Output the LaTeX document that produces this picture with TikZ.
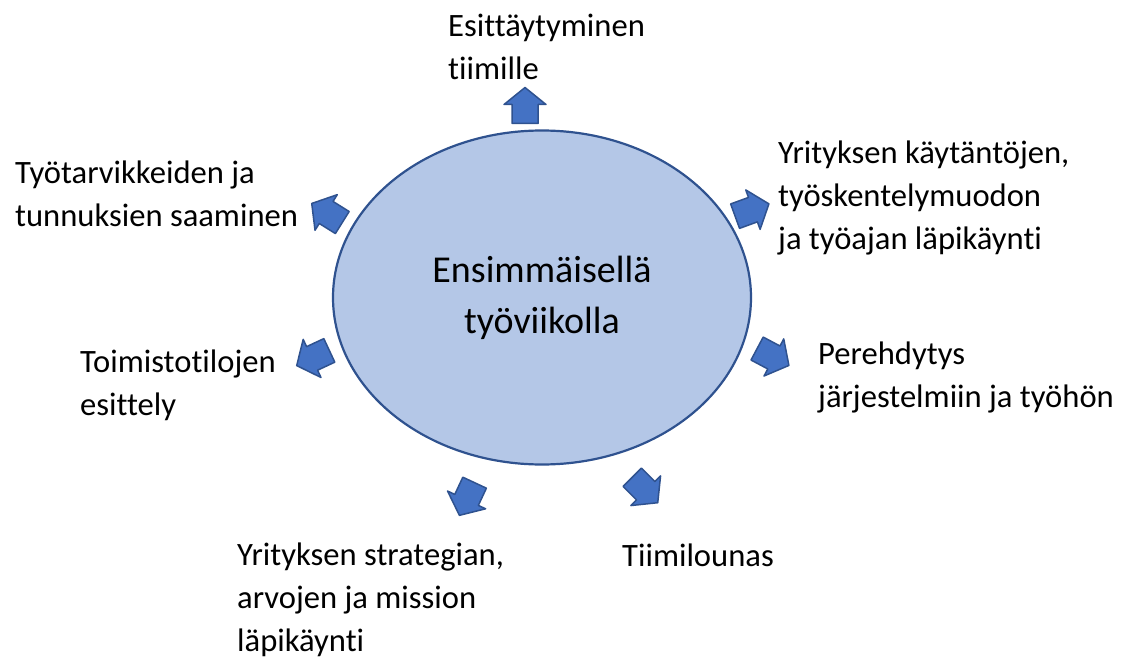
\documentclass[tikz,border=0pt]{standalone}
\usepackage{fontspec}
\setmainfont{Carlito}[Ligatures=NoCommon]
\usetikzlibrary{shapes.geometric}
\definecolor{ellfill}{HTML}{B4C7E7}
\definecolor{ellline}{HTML}{2F528F}
\definecolor{arrfill}{HTML}{4472C4}
\definecolor{arrline}{HTML}{2F528F}
\tikzset{
  lbl/.style={inner sep=0pt, align=left, anchor=west, font=\fontsize{32.6}{43}\selectfont},
  blockarrow/.pic={
    \draw[fill=arrfill, draw=arrline, line width=1.5pt, line join=round]
      (-18,-13) -- (1,-13) -- (1,-21) -- (18,0) -- (1,21) -- (1,13) -- (-18,13) -- cycle;
  }
}
\begin{document}
\begin{tikzpicture}[x=1pt,y=1pt]
\useasboundingbox (0,0) rectangle (1130,-658);
\node[ellipse, draw=ellline, fill=ellfill, line width=2.2pt, minimum width=418pt, minimum height=334pt, inner sep=0pt,
  align=center, font=\fontsize{38}{51}\selectfont] (center) at (542,-297.5) {Ensimmäisellä\\työviikolla};

\pic[rotate=90] at (525,-105.5) {blockarrow};
\pic[rotate=148] at (327,-213) {blockarrow};
\pic[rotate=20] at (752,-210) {blockarrow};
\pic[rotate=205] at (313,-358) {blockarrow};
\pic[rotate=-28] at (773,-357) {blockarrow};
\pic[rotate=-115] at (467,-499) {blockarrow};
\pic[rotate=-45] at (645,-490) {blockarrow};

\node[lbl] (t1) at (448,-46.5) {Esittäytyminen\\tiimille};
\node[lbl] (t2) at (15,-193.5) {Työtarvikkeiden ja\\tunnuksien saaminen};
\node[lbl] (t3) at (778,-198) {Yrityksen käytäntöjen,\\työskentelymuodon\\ja työajan läpikäynti};
\node[lbl] (t4) at (818,-377.5) {Perehdytys\\järjestelmiin ja työhön};
\node[lbl] (t5) at (80,-385.5) {Toimistotilojen\\esittely};
\node[lbl] (t6) at (622,-555) {Tiimilounas};
\node[lbl] (t7) at (237,-600) {Yrityksen strategian,\\arvojen ja mission\\läpikäynti};
\end{tikzpicture}
\end{document}
